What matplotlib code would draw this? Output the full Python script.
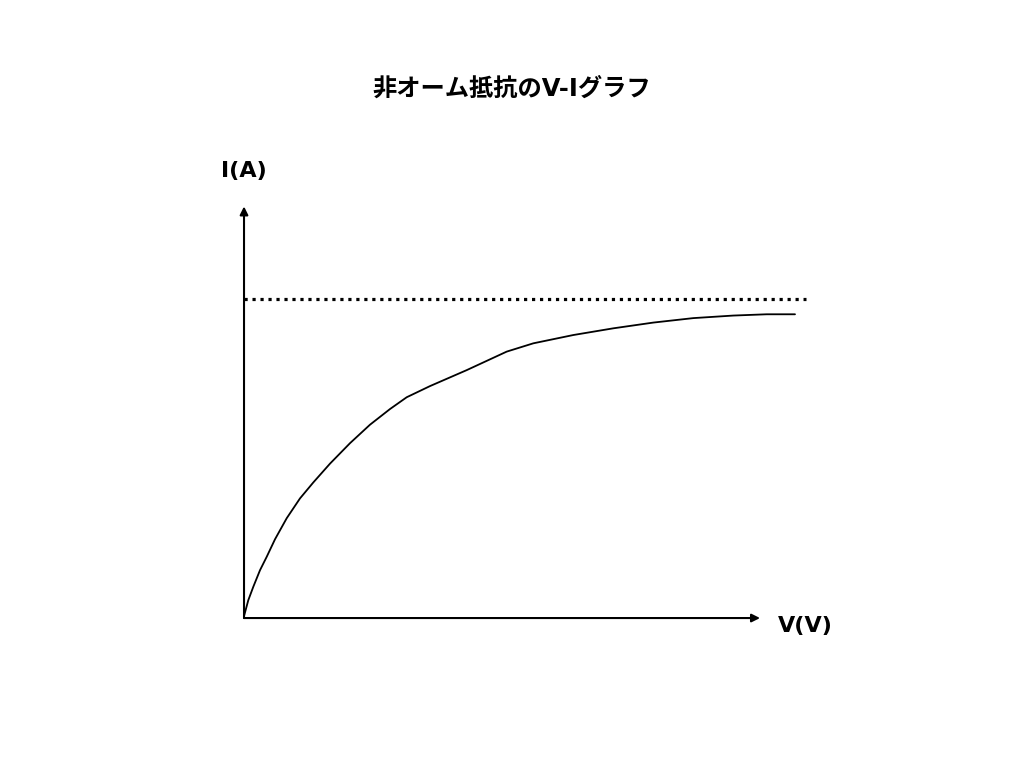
import matplotlib
matplotlib.use("Agg")
import matplotlib.pyplot as plt

# Latin glyphs from DejaVu (wide, like the reference), CJK falls back to Noto
plt.rcParams['font.family'] = ['DejaVu Sans', 'Noto Sans CJK JP']

# values (V in arbitrary units, I normalised to the saturation level)
voltage = [0.0, 0.083, 0.180, 0.310, 0.440, 0.601, 0.828, 1.085, 1.343, 1.667,
           2.054, 2.442, 2.829, 3.153, 3.605, 4.316, 5.091, 5.607, 6.382,
           7.157, 7.932, 8.707, 9.482, 10.130, 10.678]
current = [0.006, 0.056, 0.098, 0.150, 0.192, 0.247, 0.313, 0.375, 0.425, 0.484,
           0.548, 0.606, 0.655, 0.692, 0.727, 0.777, 0.835, 0.861, 0.887,
           0.908, 0.926, 0.940, 0.948, 0.952, 0.952]
i_sat = 1.0
v_axis_end = 10.0
i_axis_end = 1.29
v_line_end = 10.89

title = "非オーム抵抗のV-Iグラフ"
xlabel = "V(V)"
ylabel = "I(A)"

fig = plt.figure(figsize=(10.24, 7.68), dpi=100)
ax = fig.add_axes([0, 0, 1, 1])
ax.set_xlim(-4.729, 15.116)
ax.set_ylim(-0.470, 1.937)
ax.axis('off')

# axes arrows
arrow = dict(arrowstyle='-|>', color='black', lw=1.5, mutation_scale=12, shrinkA=0, shrinkB=0)
ax.annotate('', xy=(v_axis_end, 0), xytext=(0, 0), arrowprops=arrow)
ax.annotate('', xy=(0, i_axis_end), xytext=(0, 0), arrowprops=arrow)

# saturation level
ax.plot([0, v_line_end], [i_sat, i_sat], color='black', lw=2.3,
        linestyle=(0, (1.0, 1.5)), solid_capstyle='butt', dash_capstyle='butt')

# V-I curve
ax.plot(voltage, current, color='black', lw=1.3, solid_capstyle='round',
        solid_joinstyle='round')

ax.text(0, i_axis_end + 0.11, ylabel, ha='center', va='center',
        fontsize=16, fontweight='bold')
ax.text(v_axis_end + 0.88, -0.025, xlabel, ha='center', va='center',
        fontsize=16, fontweight='bold')
fig.text(0.5, 1 - 89 / 768, title, ha='center', va='center',
         fontsize=17.5, fontweight='bold')

fig.savefig('out.png', dpi=100)
